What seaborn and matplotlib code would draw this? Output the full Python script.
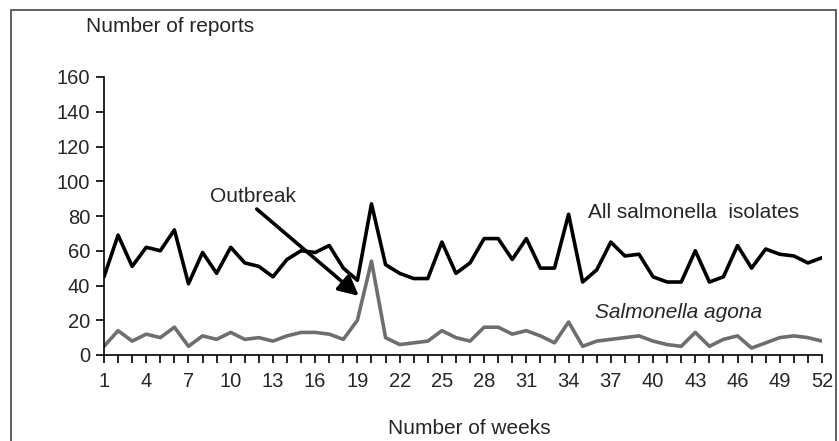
import numpy as np
import pandas as pd
import matplotlib
matplotlib.use("Agg")
import matplotlib.pyplot as plt
from matplotlib.patches import Rectangle
import seaborn as sns

# weekly report counts
weeks = list(range(1, 53))
all_isolates = [45, 69, 51, 62, 60, 72, 41, 59, 47, 62, 53, 51, 45, 55, 60, 59, 63, 50, 43, 87,
                52, 47, 44, 44, 65, 47, 53, 67, 67, 55, 67, 50, 50, 81, 42, 49, 65, 57, 58, 45,
                42, 42, 60, 42, 45, 63, 50, 61, 58, 57, 53, 56]
agona = [5, 14, 8, 12, 10, 16, 5, 11, 9, 13, 9, 10, 8, 11, 13, 13, 12, 9, 20, 54,
         10, 6, 7, 8, 14, 10, 8, 16, 16, 12, 14, 11, 7, 19, 5, 8, 9, 10, 11, 8,
         6, 5, 13, 5, 9, 11, 4, 7, 10, 11, 10, 8]
week_ticks = list(range(1, 53, 3))
y_ticks = [0, 20, 40, 60, 80, 100, 120, 140, 160]

df = pd.DataFrame({"week": weeks, "all": all_isolates, "agona": agona})

sns.set_style("white")
plt.rcParams["font.family"] = ["Liberation Sans", "DejaVu Sans"]

fig = plt.figure(figsize=(8.39, 4.41), dpi=100)
ax = fig.add_axes([104 / 839, 1 - 355 / 441, (822 - 104) / 839, (355 - 77) / 441])

sns.lineplot(data=df, x="week", y="all", ax=ax, color="black", lw=2.6)
sns.lineplot(data=df, x="week", y="agona", ax=ax, color="#6e6e6e", lw=2.6)

ax.set_xlim(1, 52)
ax.set_ylim(0, 160)
ax.set_xticks(weeks, minor=True)
ax.set_xticks(week_ticks)
ax.set_yticks(y_ticks)
ax.tick_params(axis="both", which="major", labelsize=14.5, length=6, width=1.2,
               direction="out", color="black", bottom=True, left=True, pad=4)
ax.tick_params(axis="x", which="minor", length=6, width=1.2, direction="out",
               color="black", bottom=True)
ax.tick_params(axis="x", pad=6)
ax.set_xlabel("")
ax.set_ylabel("")
for side in ["top", "right"]:
    ax.spines[side].set_visible(False)
for side in ["left", "bottom"]:
    ax.spines[side].set_color("black")
    ax.spines[side].set_linewidth(1.2)

# annotations
ax.text(11.6, 91, "Outbreak", fontsize=15, ha="center", va="center")
ax.annotate("", xy=(19.1, 34), xytext=(11.85, 84),
            arrowprops=dict(arrowstyle="-|>", lw=2.6, color="black",
                            mutation_scale=30, shrinkA=0, shrinkB=0))
ax.text(35.4, 82, "All salmonella  isolates", fontsize=15, ha="left", va="center")
ax.text(35.9, 24.5, "Salmonella agona", fontsize=15, style="italic", ha="left", va="center")

fig.text(170 / 839, 1 - 26 / 441, "Number of reports", fontsize=15, ha="center", va="center")
fig.text(469 / 839, 1 - 429 / 441, "Number of weeks", fontsize=15, ha="center", va="center")

# outer frame
fig.patches.append(Rectangle((11 / 839, -0.05), (836 - 11) / 839, 1.05 - 10 / 441,
                             transform=fig.transFigure, fill=False,
                             edgecolor="#444444", lw=1.2))

fig.savefig("out.png", dpi=100)
